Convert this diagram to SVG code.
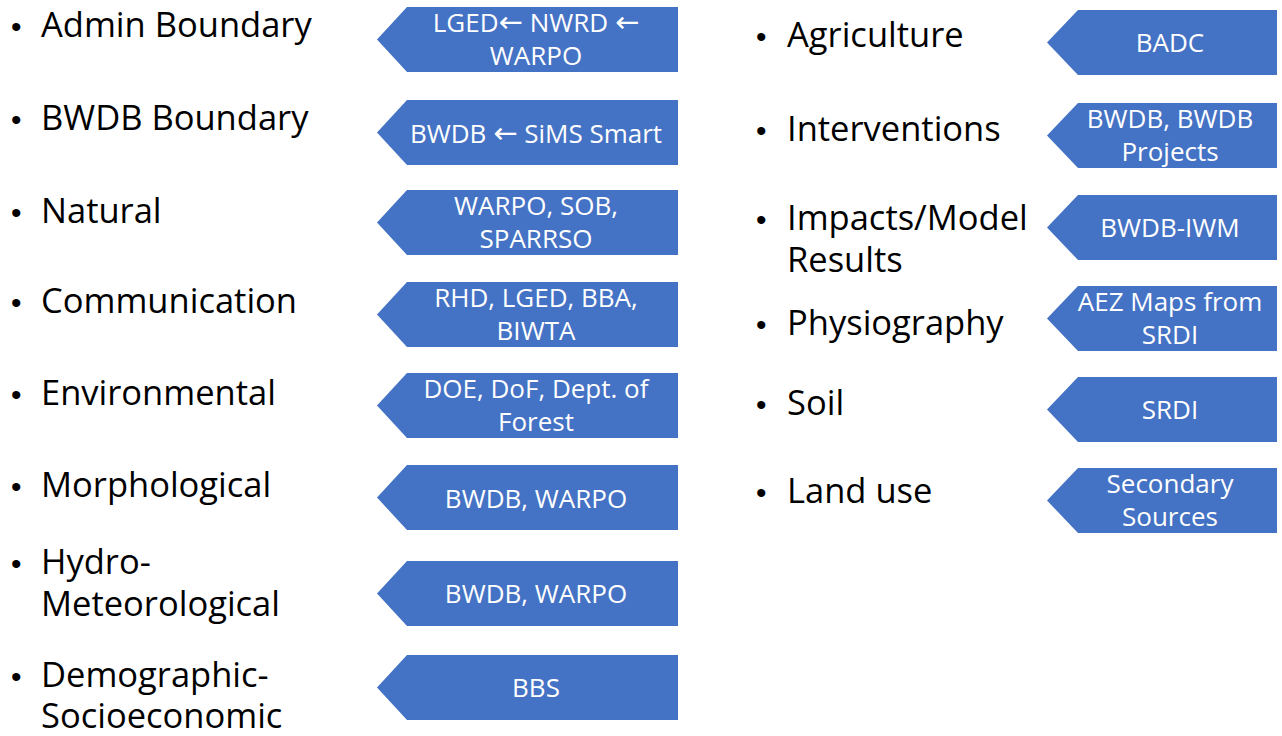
<svg xmlns="http://www.w3.org/2000/svg" width="1282" height="736" viewBox="0 0 1282 736">
<style>
.lbl{font-family:"Open Sans","Liberation Sans",sans-serif;font-size:34.5px;fill:#000}
.bul{font-family:"Liberation Sans",sans-serif;font-size:30px;fill:#000}
.tag{fill:#4472C4}
.tt{font-family:"Open Sans","Liberation Sans","DejaVu Sans",sans-serif;font-size:26px;fill:#fff;text-anchor:middle}
.ar{font-family:"DejaVu Sans",sans-serif;font-size:29px}
</style>
<defs>
<path id="tagL" d="M0,32.5 L30,0 L301,0 L301,65 L30,65 Z"/>
<path id="tagR" d="M0,32.5 L31,0 L230,0 L230,65 L31,65 Z"/>
</defs>
<rect width="1282" height="736" fill="#fff"/>
<g id="connectors"/>

<g id="admin"><text class="bul" x="11" y="37">•</text><text class="lbl" x="41" y="37">Admin Boundary</text>
<use href="#tagL" class="tag" x="377" y="7"/><text class="tt" x="536" y="31.5">LGED<tspan class="ar">←</tspan> NWRD <tspan class="ar">←</tspan></text><text class="tt" x="536" y="65">WARPO</text></g>

<g id="bwdb"><text class="bul" x="11" y="130">•</text><text class="lbl" x="41" y="130">BWDB Boundary</text>
<use href="#tagL" class="tag" x="377" y="100"/><text class="tt" x="536" y="143">BWDB <tspan class="ar">←</tspan> SiMS Smart</text></g>

<g id="natural"><text class="bul" x="11" y="223">•</text><text class="lbl" x="41" y="223">Natural</text>
<use href="#tagL" class="tag" x="377" y="190"/><text class="tt" x="536" y="214.5">WARPO, SOB,</text><text class="tt" x="536" y="248">SPARRSO</text></g>

<g id="communication"><text class="bul" x="11" y="313">•</text><text class="lbl" x="41" y="313">Communication</text>
<use href="#tagL" class="tag" x="377" y="282"/><text class="tt" x="536" y="306.5">RHD, LGED, BBA,</text><text class="tt" x="536" y="340">BIWTA</text></g>

<g id="environmental"><text class="bul" x="11" y="405">•</text><text class="lbl" x="41" y="405">Environmental</text>
<use href="#tagL" class="tag" x="377" y="373"/><text class="tt" x="536" y="397.5">DOE, DoF, Dept. of</text><text class="tt" x="536" y="431">Forest</text></g>

<g id="morphological"><text class="bul" x="11" y="497">•</text><text class="lbl" x="41" y="497">Morphological</text>
<use href="#tagL" class="tag" x="377" y="465"/><text class="tt" x="536" y="508">BWDB, WARPO</text></g>

<g id="hydro"><text class="bul" x="11" y="574">•</text><text class="lbl" x="41" y="574">Hydro-</text><text class="lbl" x="41" y="616">Meteorological</text>
<use href="#tagL" class="tag" x="377" y="561"/><text class="tt" x="536" y="603">BWDB, WARPO</text></g>

<g id="demographic"><text class="bul" x="11" y="687">•</text><text class="lbl" x="41" y="687">Demographic-</text><text class="lbl" x="41" y="728">Socioeconomic</text>
<use href="#tagL" class="tag" x="377" y="655"/><text class="tt" x="536" y="697">BBS</text></g>

<g id="agriculture"><text class="bul" x="756" y="47">•</text><text class="lbl" x="787" y="47">Agriculture</text>
<use href="#tagR" class="tag" x="1047" y="10"/><text class="tt" x="1170" y="52">BADC</text></g>

<g id="interventions"><text class="bul" x="756" y="141">•</text><text class="lbl" x="787" y="141">Interventions</text>
<use href="#tagR" class="tag" x="1047" y="103"/><text class="tt" x="1170" y="127.5">BWDB, BWDB</text><text class="tt" x="1170" y="161">Projects</text></g>

<g id="impacts"><text class="bul" x="756" y="230">•</text><text class="lbl" x="787" y="230">Impacts/Model</text><text class="lbl" x="787" y="272">Results</text>
<use href="#tagR" class="tag" x="1047" y="195"/><text class="tt" x="1170" y="237">BWDB-IWM</text></g>

<g id="physiography"><text class="bul" x="756" y="335">•</text><text class="lbl" x="787" y="335">Physiography</text>
<use href="#tagR" class="tag" x="1047" y="286"/><text class="tt" x="1170" y="310.5">AEZ Maps from</text><text class="tt" x="1170" y="344">SRDI</text></g>

<g id="soil"><text class="bul" x="756" y="415">•</text><text class="lbl" x="787" y="415">Soil</text>
<use href="#tagR" class="tag" x="1047" y="377"/><text class="tt" x="1170" y="419">SRDI</text></g>

<g id="landuse"><text class="bul" x="756" y="503">•</text><text class="lbl" x="787" y="503">Land use</text>
<use href="#tagR" class="tag" x="1047" y="468"/><text class="tt" x="1170" y="492.5">Secondary</text><text class="tt" x="1170" y="526">Sources</text></g>
</svg>
